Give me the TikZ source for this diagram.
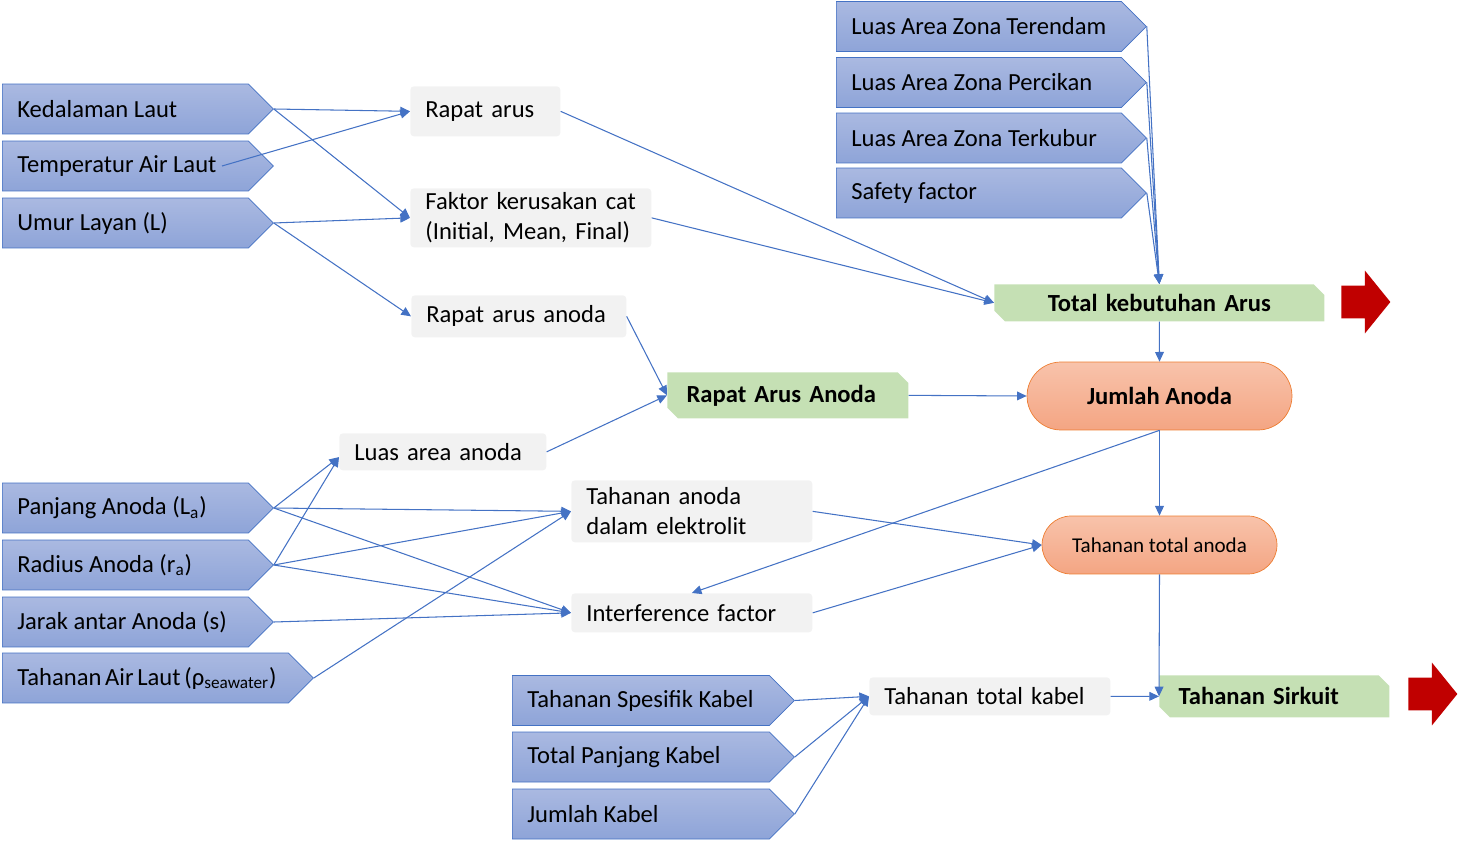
\documentclass[tikz,border=0pt]{standalone}
\usepackage{fontspec}
\setmainfont{Carlito}
\usetikzlibrary{arrows.meta,calc,shapes.symbols,shapes.misc,shapes.arrows}
\definecolor{Edge}{HTML}{4472C4}
\definecolor{PentTop}{HTML}{AAB9E1}
\definecolor{PentBot}{HTML}{8EA4D8}
\definecolor{Note}{HTML}{F2F2F2}
\definecolor{Leaf}{HTML}{C5E0B4}
\definecolor{PeachTop}{HTML}{F8C3AB}
\definecolor{PeachBot}{HTML}{F4A583}
\definecolor{PeachEdge}{HTML}{ED7D31}
\definecolor{Crimson}{HTML}{C00000}
\tikzset{
  input/.style={
    signal, signal to=east, signal pointer angle=90, draw=Edge, thin,
    top color=PentTop, bottom color=PentBot, minimum height=1cm,
    inner xsep=0.3cm, inner ysep=0pt, anchor=west,
    execute at begin node={\hbox to #1\bgroup},
    execute at end node={\hfil\egroup},
    font=\fontsize{14}{17}\selectfont
  },
  note/.style={
    rectangle, rounded corners=2pt, fill=Note, inner xsep=0.3cm, inner ysep=0pt,
    text width=#1, align=left, anchor=north west, font=\fontsize{14}{17}\selectfont
  },
  result/.style={
    chamfered rectangle, chamfered rectangle corners={north east,south west},
    chamfered rectangle xsep=3pt, chamfered rectangle ysep=3pt, fill=Leaf,
    inner xsep=0.28cm, inner ysep=0pt, text width=#1, anchor=north west,
    font=\fontsize{14}{17}\selectfont\bfseries
  },
  pill/.style={
    rounded rectangle, draw=PeachEdge, top color=PeachTop, bottom color=PeachBot,
    inner sep=0pt
  },
  exit/.style={
    single arrow, fill=Crimson, single arrow tip angle=102,
    single arrow head extend=0.3cm, minimum height=0.98cm,
    inner ysep=0.32cm, inner xsep=0pt, anchor=tail
  },
  link/.style={-{Triangle[length=5.5pt,width=5pt]}, draw=Edge, line width=0.6pt}
}
\begin{document}
\begin{tikzpicture}[x=0.02cm,y=-0.02cm]
  \useasboundingbox (0,0) rectangle (1460,844);
  % inputs
  \node[input=4.32cm] (depth) at (2,109) {Kedalaman Laut};
  \node[input=4.32cm] (temp) at (2,166) {Temperatur Air Laut};
  \node[input=4.32cm] (life) at (2,223) {Umur Layan (L)};
  \node[input=5.10cm] (zsub) at (836,26.5) {Luas Area Zona Terendam};
  \node[input=5.10cm] (zsplash) at (836,82.5) {Luas Area Zona Percikan};
  \node[input=5.10cm] (zburied) at (836,138) {Luas Area Zona Terkubur};
  \node[input=5.10cm] (safety) at (836,193) {Safety factor};
  \node[input=4.32cm] (alen) at (2,508) {Panjang Anoda (L\textsubscript{a})};
  \node[input=4.32cm] (arad) at (2,565) {Radius Anoda (r\textsubscript{a})};
  \node[input=4.32cm] (aspace) at (2,622) {Jarak antar Anoda (s)};
  \node[input=5.12cm] (rho) at (2,678) {Tahanan Air Laut (ρ\textsubscript{seawater})};
  \node[input=4.54cm] (cres) at (512,700.5) {Tahanan Spesifik Kabel};
  \node[input=4.54cm] (clen) at (512,757) {Total Panjang Kabel};
  \node[input=4.54cm] (cnum) at (512,814) {Jumlah Kabel};
  % intermediate values
  \node[note=2.4cm, minimum height=1cm] (cd) at (410,86) {Rapat arus};
  \node[note=4.22cm, minimum height=1.18cm] (coat) at (410,188) {Faktor kerusakan cat\\(Initial, Mean, Final)};
  \node[note=3.7cm, minimum height=0.84cm] (acd) at (411,295) {Rapat arus anoda};
  \node[note=3.54cm, minimum height=0.74cm] (aarea) at (339,433) {Luas area anoda};
  \node[note=4.22cm, minimum height=1.24cm] (ares) at (571,480) {Tahanan anoda\\dalam elektrolit};
  \node[note=4.22cm, minimum height=0.78cm] (intf) at (571,593) {Interference factor};
  \node[note=4.22cm, minimum height=0.76cm] (cabtot) at (869,677) {Tahanan total kabel};
  % results
  \node[result=5.83cm, align=center, minimum height=0.74cm] (itot) at (994,284) {Total kebutuhan Arus};
  \node[result=4.05cm, align=left, minimum height=0.92cm] (acdres) at (667,372) {Rapat Arus Anoda};
  \node[result=3.83cm, align=left, minimum height=0.84cm] (circ) at (1159,675) {Tahanan Sirkuit};
  \node[pill, minimum width=5.3cm, minimum height=1.36cm, font=\fontsize{14}{17}\selectfont\bfseries] (nanode) at (1159.5,396) {Jumlah Anoda};
  \node[pill, minimum width=4.7cm, minimum height=1.16cm, font=\fontsize{12}{14}\selectfont] (rtot) at (1159.5,545) {Tahanan total anoda};
  \node[exit] (out1) at (1341,302) {};
  \node[exit] (out2) at (1408,694) {};
  % connectors
  \draw[link] (depth.east) -- (cd.west);
  \draw[link] ($(temp.west)+(220,0)$) -- (cd.west);
  \draw[link] (depth.east) -- (coat.west);
  \draw[link] (life.east) -- (coat.west);
  \draw[link] (life.east) -- (acd.west);
  \draw[link] (cd.east) -- (itot.west);
  \draw[link] (coat.east) -- (itot.west);
  \foreach \z in {zsub,zsplash,zburied,safety}
    \draw[link] (\z.east) -- (itot.north);
  \draw[link] (itot.south) -- (nanode.north);
  \draw[link] (acd.east) -- (acdres.west);
  \draw[link] (aarea.east) -- (acdres.west);
  \draw[link] (acdres.east) -- (nanode.west);
  \foreach \s in {alen,arad} {
    \draw[link] (\s.east) -- ([yshift=-3pt]aarea.west);
    \draw[link] (\s.east) -- (ares.west);
    \draw[link] (\s.east) -- (intf.west);
  }
  \draw[link] (aspace.east) -- (intf.west);
  \draw[link] (rho.east) -- (ares.west);
  \draw[link] (ares.east) -- (rtot.west);
  \draw[link] (intf.east) -- (rtot.west);
  \draw[link] (nanode.south) -- (rtot.north);
  \draw[link] (nanode.south) -- (intf.north);
  \draw[link] (rtot.south) -- (circ.west);
  \draw[link] (cabtot.east) -- (circ.west);
  \foreach \c in {cres,clen,cnum}
    \draw[link] (\c.east) -- (cabtot.west);
\end{tikzpicture}
\end{document}
